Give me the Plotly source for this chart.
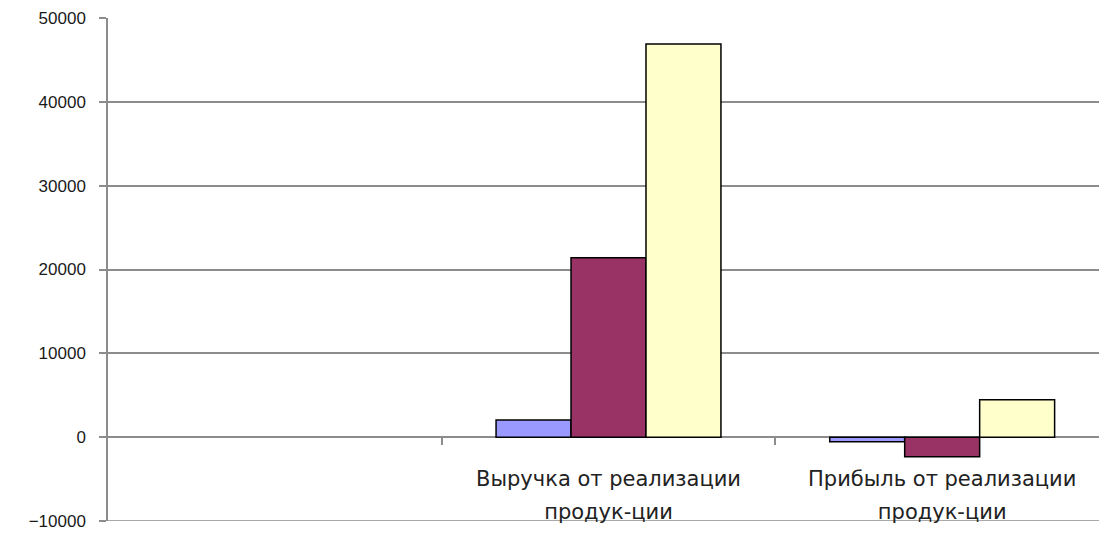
import plotly.graph_objects as go

categories = ["", "Выручка от реализации продук-ции", "Прибыль от реализации продук-ции"]
label_line1 = ["", "Выручка от реализации", "Прибыль от реализации"]
label_line2 = ["", "продук-ции", "продук-ции"]
series_names = ["Ряд1", "Ряд2", "Ряд3"]
series_values = [
    [None, 2050, -550],
    [None, 21400, -2350],
    [None, 46900, 4450],
]
colors = ["#9999FF", "#993366", "#FFFFCC"]
y_ticks = [-10000, 0, 10000, 20000, 30000, 40000, 50000]

x_pos = list(range(len(categories)))

fig = go.Figure()
for name, vals, col in zip(series_names, series_values, colors):
    fig.add_trace(go.Bar(
        x=x_pos, y=vals, name=name,
        marker=dict(color=col, line=dict(color="#000000", width=1.5)),
    ))

font_fam = "DejaVu Sans"
num_font = "Liberation Sans"
grid_col = "#8c8c8c"
xrange = [-0.5, 2.47]
zero_pos = (0 - y_ticks[0]) / (y_ticks[-1] - y_ticks[0])

fig.update_layout(
    width=1099, height=533,
    margin=dict(l=108, r=0, t=18, b=12, autoexpand=False),
    paper_bgcolor="white", plot_bgcolor="white",
    showlegend=False,
    barmode="group", bargap=0.326, bargroupgap=0,
    font=dict(family=font_fam, color="#222222"),
    yaxis=dict(
        range=[y_ticks[0], y_ticks[-1]], tickvals=y_ticks, tickformat="d",
        showgrid=True, gridcolor=grid_col, gridwidth=1.5,
        showline=True, linecolor=grid_col, linewidth=1.5,
        ticks="outside", ticklen=7, tickcolor=grid_col, tickwidth=1.5,
        zeroline=False, automargin=False, ticklabelstandoff=10,
        tickfont=dict(size=17, family=num_font, color="#1a1a1a"),
    ),
    xaxis=dict(
        range=xrange, tickvals=[0.5, 1.5], showticklabels=False,
        ticks="outside", ticklen=7, tickcolor=grid_col, tickwidth=1.5,
        showgrid=False, zeroline=False, showline=False, automargin=False,
        anchor="free", position=zero_pos,
    ),
    xaxis2=dict(
        range=xrange, overlaying="x", tickvals=x_pos, ticktext=label_line1,
        ticks="outside", ticklen=23, tickcolor="rgba(0,0,0,0)",
        showgrid=False, zeroline=False, showline=False, automargin=False,
        anchor="free", position=zero_pos,
        tickfont=dict(size=21, family=font_fam, color="#222222"),
    ),
    xaxis3=dict(
        range=xrange, overlaying="x", tickvals=x_pos, ticktext=label_line2,
        ticks="outside", ticklen=56, tickcolor="rgba(0,0,0,0)",
        showgrid=False, zeroline=False, showline=False, automargin=False,
        anchor="free", position=zero_pos,
        tickfont=dict(size=21, family=font_fam, color="#222222"),
    ),
)
# bottom gridline at the lowest y tick (hidden by plotly at the axis edge)
fig.add_shape(type="line", xref="paper", yref="y", x0=0, x1=1,
              y0=y_ticks[0], y1=y_ticks[0], line=dict(color=grid_col, width=1.5),
              layer="below")
fig.add_trace(go.Scatter(x=[None], y=[None], xaxis="x2", showlegend=False, hoverinfo="skip"))
fig.add_trace(go.Scatter(x=[None], y=[None], xaxis="x3", showlegend=False, hoverinfo="skip"))

fig.write_html("out.html", config={"displayModeBar": False},
               post_script="document.body.style.margin='0';document.body.style.overflow='hidden';")
